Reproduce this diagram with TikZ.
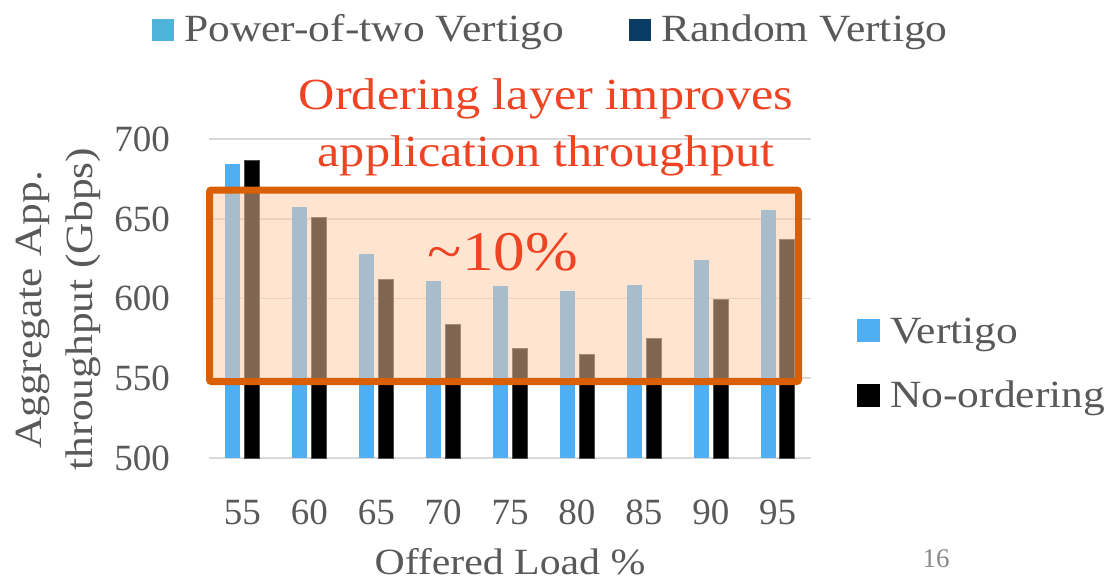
\documentclass[tikz,border=0pt]{standalone}
\usepackage{fontspec}
\setmainfont{Liberation Serif}
\newfontfamily\widefont[FakeStretch=1.13]{Liberation Serif}
\definecolor{labelgray}{RGB}{89,89,89}
\definecolor{pagegray}{RGB}{137,137,137}
\definecolor{gridgray}{RGB}{217,217,217}
\definecolor{vertigoblue}{RGB}{80,175,243}
\definecolor{ptwoblue}{RGB}{79,179,217}
\definecolor{randnavy}{RGB}{11,60,101}
\definecolor{calloutred}{RGB}{238,68,36}
\definecolor{boxorange}{RGB}{217,95,2}
\definecolor{boxfill}{RGB}{254,204,166}
\newcommand{\fsz}[1]{\fontsize{#1}{#1}\selectfont}
\tikzset{
  lbl/.style={text=labelgray, inner sep=0pt, font=\widefont\fsz{38.5}},
  ticklbl/.style={text=labelgray, inner sep=0pt, font=\fsz{37}},
  callout/.style={text=calloutred, inner sep=0pt, font=\widefont\fsz{44.5}},
  grid line/.style={draw=gridgray, line width=1.5pt},
  vbar/.style={fill=vertigoblue},
  nbar/.style={fill=black, draw=black!70, line width=0.4pt},
  legsq/.style={minimum size=22pt, inner sep=0pt},
}
\begin{document}
\begin{tikzpicture}[x=1pt, y=-1pt]
\useasboundingbox (0,0) rectangle (1111,583);
% horizontal grid lines and y tick labels
\foreach \v/\yy in {700/139, 650/219, 600/298.5, 550/378, 500/458} {
  \draw[grid line] (209,\yy) -- (811,\yy);
  \node[ticklbl, anchor=east] (ytick\v) at (170,\yy) {\v};
}
% bars: Vertigo / No-ordering per offered load
\foreach \i/\ld/\va/\vb in {0/55/683.6/686.0, 1/60/656.7/650.6, 2/65/627.7/611.7,
    3/70/610.8/583.8, 4/75/607.5/568.8, 5/80/604.6/564.6, 6/85/608.0/574.8,
    7/90/623.6/599.2, 8/95/655.0/636.7} {
  \pgfmathsetmacro{\cx}{209 + 66.9*(\i+0.5)}
  \pgfmathsetmacro{\ya}{458 - (\va-500)*1.6}
  \pgfmathsetmacro{\yb}{458 - (\vb-500)*1.6}
  \fill[vbar] (\cx-17,458) rectangle (\cx-2,\ya);
  \filldraw[nbar] (\cx+2,458) rectangle (\cx+17,\yb);
  \node[ticklbl, anchor=base] (xtick\ld) at (\cx,524) {\ld};
}
% highlighted region
\draw[boxorange, line width=7pt, rounded corners=2pt, fill=boxfill, fill opacity=0.5, draw opacity=1]
  (209.5,190) rectangle (798.5,381.5);
% axis titles
\node[lbl, font=\widefont\fsz{37}, anchor=base] (xtitle) at (510,574) {Offered Load \%};
\node[lbl, rotate=90] (ytitle1) at (33,310) {Aggregate App.};
\node[lbl, rotate=90] (ytitle2) at (83,309) {throughput (Gbps)};
% callouts
\node[callout, anchor=base] (call1) at (546,110) {Ordering layer improves};
\node[callout, anchor=base] (call2) at (546,166) {application throughput};
\node[callout, font=\widefont\fsz{56}, anchor=base] (pct) at (503,270) {\textasciitilde 10\%};
% top legend
\node[legsq, fill=ptwoblue] (sqA) at (163,30.5) {};
\node[lbl, anchor=base west] (legA) at (184,42) {Power-of-two Vertigo};
\node[legsq, fill=randnavy] (sqB) at (640,30.5) {};
\node[lbl, anchor=base west] (legB) at (661,42) {Random Vertigo};
% right legend
\node[legsq, minimum size=23pt, fill=vertigoblue] (sqC) at (868.5,330.5) {};
\node[lbl, anchor=base west] (legC) at (890,343) {Vertigo};
\node[legsq, minimum size=23pt, fill=black] (sqD) at (868.5,395) {};
\node[lbl, anchor=base west] (legD) at (890,407) {No-ordering};
% slide number
\node[text=pagegray, font=\fsz{27}, anchor=base, inner sep=0pt] (pagenum) at (936,567) {16};
\end{tikzpicture}
\end{document}
